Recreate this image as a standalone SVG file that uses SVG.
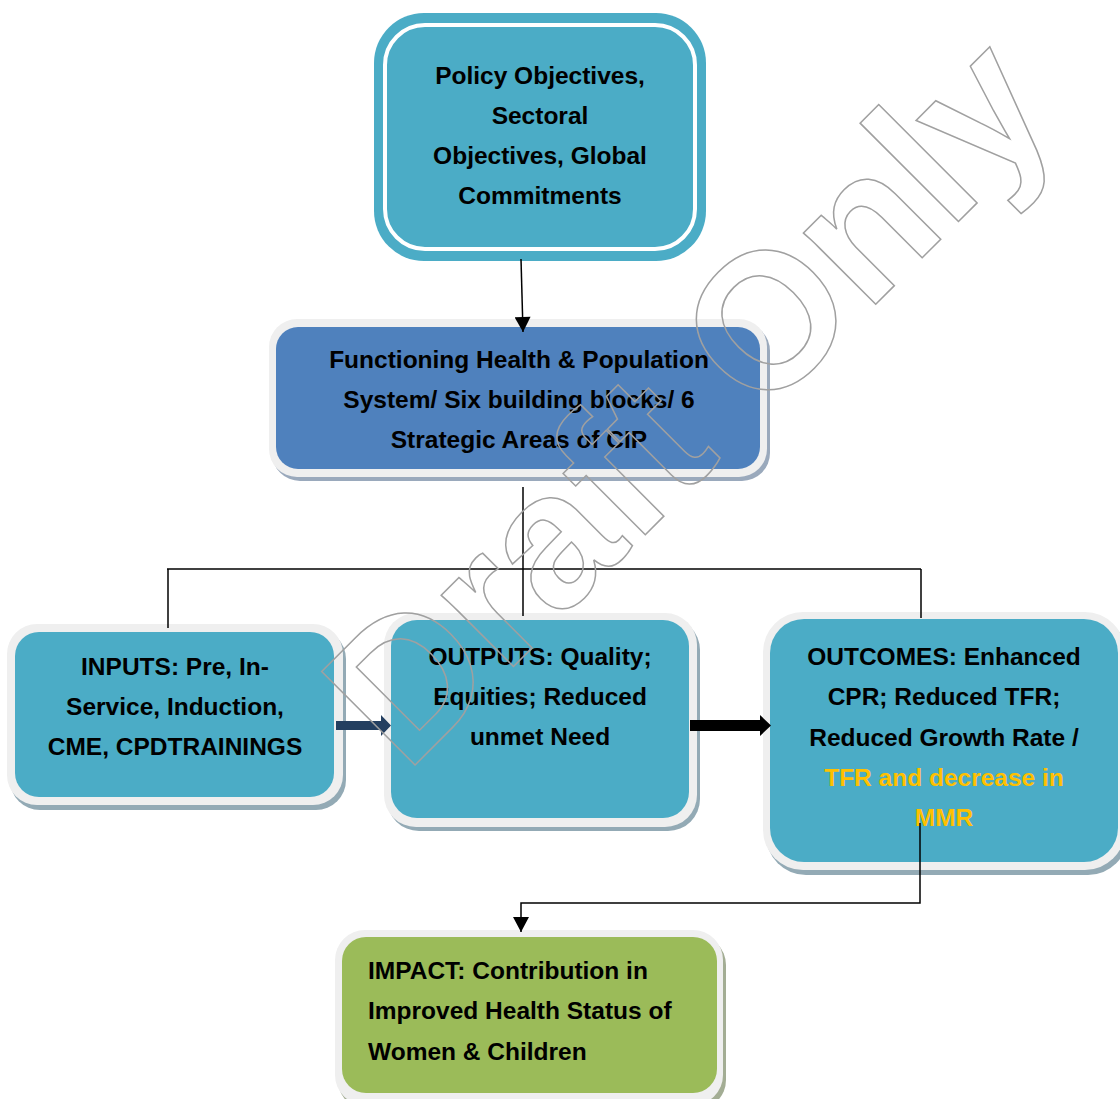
<svg xmlns="http://www.w3.org/2000/svg" width="1120" height="1099" viewBox="0 0 1120 1099">
  <defs>
    <style>
      .lbl { font-family: "Liberation Sans", Arial, sans-serif; font-weight: bold; font-size: 24.5px; fill: #000000; }
      .mid { text-anchor: middle; }
      .hl { fill: #FFC000; }
      .border { fill: #EFEFEF; }
      .shadow { fill: #93AAB5; }
      .shadowBlue { fill: #9AA9BC; }
      .shadowGreen { fill: #A3AD94; }
      .teal { fill: #4BACC6; }
      .blue { fill: #4F81BD; }
      .green { fill: #9BBB59; }
      .conn { stroke: #000000; stroke-width: 1.5; fill: none; }
      .wm { font-family: "Liberation Sans", Arial, sans-serif; font-weight: bold; font-size: 192px; fill: none; stroke: #A0A0A0; stroke-width: 1.5; }
    </style>
    <marker id="arrow" markerUnits="userSpaceOnUse" markerWidth="16" markerHeight="16" viewBox="0 0 14 15" refX="14" refY="7.5" orient="auto">
      <path d="M0,0 L14,7.5 L0,15 Z" fill="#000000"/>
    </marker>
  </defs>

  <rect width="1120" height="1099" fill="#FFFFFF"/>

  <g id="node-policy">
    <rect x="374" y="13" width="332" height="248" rx="50" class="teal"/>
    <rect x="385" y="25" width="310" height="224" rx="40" fill="none" stroke="#FFFFFF" stroke-width="4"/>
    <text class="lbl mid" x="540" y="84">Policy Objectives,</text>
    <text class="lbl mid" x="540" y="124">Sectoral</text>
    <text class="lbl mid" x="540" y="164">Objectives, Global</text>
    <text class="lbl mid" x="540" y="204">Commitments</text>
  </g>

  <g id="node-system">
    <rect x="272" y="323" width="498" height="158" rx="28" class="shadowBlue"/>
    <rect x="269" y="319" width="498" height="158" rx="28" class="border"/>
    <rect x="276" y="327" width="484" height="142" rx="22" class="blue"/>
    <text class="lbl mid" x="519" y="368">Functioning Health &amp; Population</text>
    <text class="lbl mid" x="519" y="408">System/ Six building blocks/ 6</text>
    <text class="lbl mid" x="519" y="448">Strategic Areas of CIP</text>
  </g>

  <g id="node-inputs">
    <rect x="10" y="629" width="336" height="181" rx="30" class="shadow"/>
    <rect x="7" y="624" width="336" height="181" rx="30" class="border"/>
    <rect x="15" y="632" width="319" height="165" rx="24" class="teal"/>
    <text class="lbl mid" x="175" y="675">INPUTS: Pre, In-</text>
    <text class="lbl mid" x="175" y="715">Service, Induction,</text>
    <text class="lbl mid" x="175" y="755">CME, CPDTRAININGS</text>
  </g>

  <g id="node-outputs">
    <rect x="387" y="618" width="313" height="213" rx="32" class="shadow"/>
    <rect x="384" y="613" width="313" height="214" rx="32" class="border"/>
    <rect x="391" y="620" width="298" height="198" rx="26" class="teal"/>
    <text class="lbl mid" x="540" y="665">OUTPUTS: Quality;</text>
    <text class="lbl mid" x="540" y="705">Equities; Reduced</text>
    <text class="lbl mid" x="540" y="745">unmet Need</text>
  </g>

  <g id="node-outcomes">
    <rect x="766" y="617" width="362" height="258" rx="40" class="shadow"/>
    <rect x="763" y="612" width="362" height="258" rx="40" class="border"/>
    <rect x="770" y="619" width="348" height="243" rx="34" class="teal"/>
    <text class="lbl mid" x="944" y="665">OUTCOMES: Enhanced</text>
    <text class="lbl mid" x="944" y="705">CPR; Reduced TFR;</text>
    <text class="lbl mid" x="944" y="746">Reduced Growth Rate /</text>
    <text class="lbl mid hl" x="944" y="786">TFR and decrease in</text>
    <text class="lbl mid hl" x="944" y="826">MMR</text>
  </g>

  <g id="node-impact">
    <rect x="338" y="935" width="388" height="175" rx="30" class="shadowGreen"/>
    <rect x="335" y="930" width="388" height="175" rx="30" class="border"/>
    <rect x="342" y="937" width="375" height="156" rx="24" class="green"/>
    <text class="lbl" x="368" y="979">IMPACT: Contribution in</text>
    <text class="lbl" x="368" y="1019">Improved Health Status of</text>
    <text class="lbl" x="368" y="1060">Women &amp; Children</text>
  </g>

  <g id="connectors">
    <path class="conn" d="M521,259 L523,332" marker-end="url(#arrow)"/>
    <path class="conn" d="M523,487 L523,616"/>
    <path class="conn" d="M167,569 L921,569"/>
    <path class="conn" d="M168,569 L168,628"/>
    <path class="conn" d="M921,569 L921,618"/>
    <path d="M336,721 L381,721 L381,715 L391,725.5 L381,736 L381,730 L336,730 Z" fill="#243F60"/>
    <path d="M690,720 L760,720 L760,715 L771,725.5 L760,736 L760,731 L690,731 Z" fill="#000000"/>
    <path class="conn" d="M920,823 L920,903 L521,903 L521,932" marker-end="url(#arrow)"/>
  </g>

  <g id="watermark">
    <text class="wm" transform="translate(406,774) rotate(-45)">Draft Only</text>
  </g>
</svg>
